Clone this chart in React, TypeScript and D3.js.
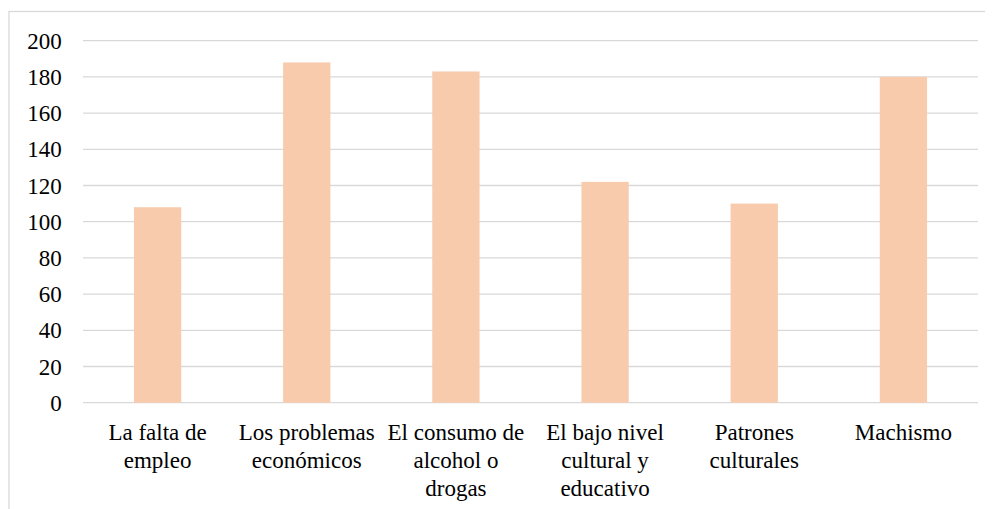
import React from "react";
import * as d3 from "d3";

const categories = [
  "La falta de empleo",
  "Los problemas económicos",
  "El consumo de alcohol o drogas",
  "El bajo nivel cultural y educativo",
  "Patrones culturales",
  "Machismo",
];
const categoryLines = [
  ["La falta de", "empleo"],
  ["Los problemas", "económicos"],
  ["El consumo de", "alcohol o", "drogas"],
  ["El bajo nivel", "cultural y", "educativo"],
  ["Patrones", "culturales"],
  ["Machismo"],
];
const values = [108, 188, 183, 122, 110, 180];
const yTicks = [0, 20, 40, 60, 80, 100, 120, 140, 160, 180, 200];

export default function App() {
  const W = 985;
  const H = 501;
  const x0 = 75, x1 = 970;
  const yTop = 32.7, yBottom = 394.7;
  const x = d3.scaleBand<string>().domain(categories).range([x0, x1]).paddingInner(0.683).paddingOuter(0.3415);
  const y = d3.scaleLinear().domain([0, 200]).range([yBottom, yTop]);
  const fontStyle = { fontFamily: '"Liberation Serif", "Times New Roman", Tinos, Times, "DejaVu Serif", serif', fontSize: "23px" };
  return (
    <svg width={W} height={H} style={{ display: "block", overflow: "hidden" }}>
      <rect x={1} y={3.5} width={1100} height={1000} fill="white" stroke="#D9D9D9" strokeWidth={1.3} />
      {yTicks.map((t) => (
        <g key={t}>
          <line x1={x0} x2={x1} y1={y(t)} y2={y(t)} stroke="#D9D9D9" strokeWidth={1.3} />
          <text x={53.7} y={y(t)} dy="0.35em" textAnchor="end" style={fontStyle} fill="#000">
            {t}
          </text>
        </g>
      ))}
      {categories.map((c, i) => (
        <rect key={c} x={x(c)} y={y(values[i])} width={x.bandwidth()} height={y(0) - y(values[i])} fill="#F8CBAD" />
      ))}
      {categories.map((c, i) => (
        <text key={c} textAnchor="middle" style={fontStyle} fill="#000">
          {categoryLines[i].map((l, j) => (
            <tspan key={j} x={(x(c) as number) + x.bandwidth() / 2} y={432 + j * 28}>
              {l}
            </tspan>
          ))}
        </text>
      ))}
    </svg>
  );
}
